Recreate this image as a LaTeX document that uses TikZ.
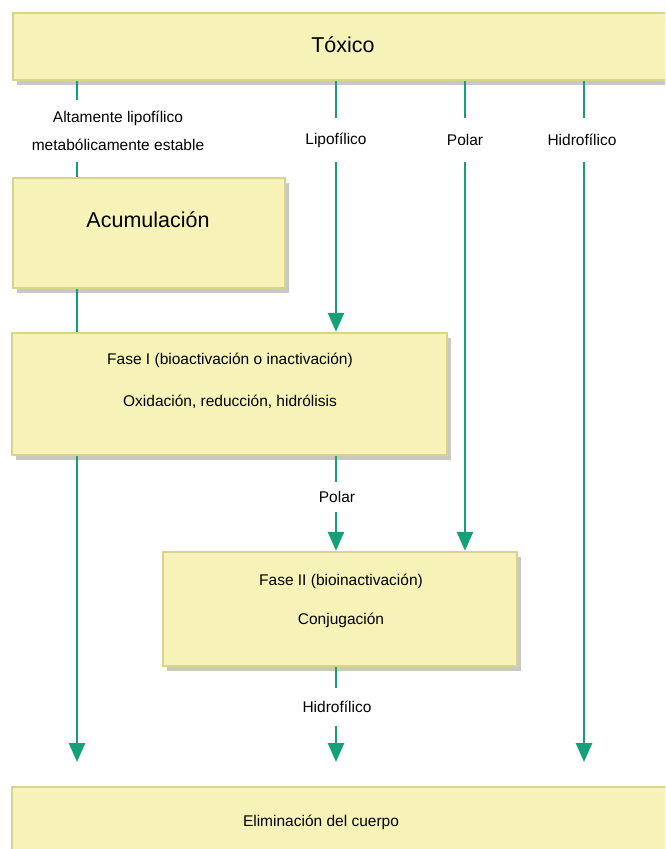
\documentclass[tikz,border=0pt]{standalone}
\usepackage{fontspec}
\setmainfont{Liberation Sans}
\usetikzlibrary{arrows.meta,shadows}
\definecolor{boxfill}{HTML}{F7F3B8}
\definecolor{boxedge}{HTML}{D8D48C}
\definecolor{shadowc}{HTML}{C4C4BE}
\definecolor{flow}{HTML}{14A078}
\begin{document}
\begin{tikzpicture}[x=1pt,y=-1pt,
  box/.style={rectangle, fill=boxfill, draw=boxedge, line width=2.4pt, inner sep=0pt,
    drop shadow={shadow xshift=4pt, shadow yshift=-5pt, fill=shadowc, opacity=0.9}},
  lbl/.style={font=\fontsize{15.5}{28}\selectfont, inner sep=0pt, align=center},
  ttl/.style={font=\fontsize{21.5}{26}\selectfont, inner sep=0pt},
  flowline/.style={draw=flow, line width=2.6pt},
  arr/.style={flowline, -{Triangle[width=16pt,length=19pt]}}]
\fill[white] (0,0) rectangle (665,849);
\path[use as bounding box] (0,0) rectangle (665,849);
\clip (0,0) rectangle (665,849);

% boxes
\node[box, minimum width=660pt, minimum height=67pt] (tox) at (343,46.5) {};
\node[ttl] (toxT) at (343,45) {Tóxico};
\node[box, minimum width=272pt, minimum height=110pt] (acc) at (149,233) {};
\node[ttl] (accT) at (148,220) {Acumulación};
\node[box, minimum width=435pt, minimum height=122pt] (f1) at (229.5,394) {};
\node[lbl] (f1a) at (230,360) {Fase I (bioactivación o inactivación)};
\node[lbl] (f1b) at (230,402) {Oxidación, reducción, hidrólisis};
\node[box, minimum width=354pt, minimum height=114pt] (f2) at (340,609) {};
\node[lbl] (f2a) at (341,581) {Fase II (bioinactivación)};
\node[lbl] (f2b) at (341,620) {Conjugación};
\node[box, minimum width=661pt, minimum height=74pt] (elim) at (342.5,824) {};
\node[lbl] (elimT) at (321,822) {Eliminación del cuerpo};

% labels
\node[lbl, minimum height=62pt] (altL) at (118,131) {Altamente lipofílico\\metabólicamente estable};
\node[lbl, minimum height=44pt] (lipL) at (336,140) {Lipofílico};
\node[lbl, minimum height=44pt] (polL) at (465,140) {Polar};
\node[lbl, minimum height=44pt] (hidL) at (582,140) {Hidrofílico};
\node[lbl, minimum height=30pt] (pol2) at (337,497) {Polar};
\node[lbl, minimum height=38pt] (hid2) at (337,707) {Hidrofílico};

% column coordinates and free ends
\coordinate (c1) at (77,0);
\coordinate (c2) at (336,0);
\coordinate (c3) at (465,0);
\coordinate (c4) at (584,0);
\coordinate (e1) at (77,762);
\coordinate (e2) at (336,762);
\coordinate (e4) at (584,762);

% column 1
\draw[flowline] (tox.south -| c1) -- (altL.north -| c1);
\draw[flowline] (altL.south -| c1) -- (acc.north -| c1);
\draw[flowline] (acc.south -| c1) -- (f1.north -| c1);
\draw[arr] (f1.south -| c1) -- (e1);
% column 2
\draw[flowline] (tox.south -| c2) -- (lipL.north -| c2);
\draw[arr] (lipL.south -| c2) -- (f1.north -| c2);
\draw[flowline] (f1.south -| c2) -- (pol2.north -| c2);
\draw[arr] (pol2.south -| c2) -- (f2.north -| c2);
\draw[flowline] (f2.south -| c2) -- (hid2.north -| c2);
\draw[arr] (hid2.south -| c2) -- (e2);
% column 3
\draw[flowline] (tox.south -| c3) -- (polL.north -| c3);
\draw[arr] (polL.south -| c3) -- (f2.north -| c3);
% column 4
\draw[flowline] (tox.south -| c4) -- (hidL.north -| c4);
\draw[arr] (hidL.south -| c4) -- (e4);
\end{tikzpicture}
\end{document}
